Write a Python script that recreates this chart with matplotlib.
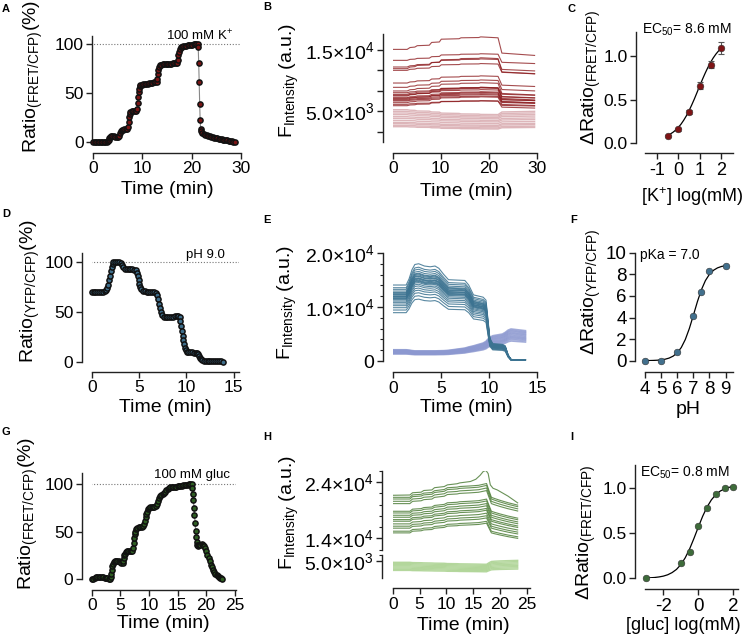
import numpy as np
import matplotlib
matplotlib.use("Agg")
import matplotlib.pyplot as plt
from matplotlib.ticker import FixedLocator, FixedFormatter

plt.rcParams['font.family'] = ['Liberation Sans', 'DejaVu Sans']
plt.rcParams['mathtext.fontset'] = 'custom'
plt.rcParams['mathtext.rm'] = 'Liberation Sans'
plt.rcParams['mathtext.it'] = 'Liberation Sans:italic'
plt.rcParams['mathtext.bf'] = 'Liberation Sans:bold'
plt.rcParams['mathtext.sf'] = 'Liberation Sans'
plt.rcParams['axes.unicode_minus'] = False

# ---------------- Panel A: K+ sensor ratio trace ----------------
A_TIME = [0.0, 0.3, 0.6, 0.9, 1.2, 1.5, 1.8, 2.1, 2.4, 2.7, 3.0,
          3.1, 3.2, 3.35,
          3.6, 3.9, 4.2, 4.5, 4.8, 5.1,
          5.3, 5.45, 5.6, 5.75,
          6.0, 6.3, 6.6, 6.9,
          7.1, 7.2, 7.3, 7.4, 7.55,
          7.8, 8.1, 8.4, 8.7,
          8.9, 9.0, 9.1, 9.2, 9.3, 9.45, 9.6,
          9.9, 10.2, 10.5, 10.8, 11.1, 11.4, 11.7, 12.0, 12.3, 12.6, 12.9,
          13.05, 13.15, 13.25, 13.35, 13.5,
          13.8, 14.1, 14.4, 14.7, 15.0, 15.3, 15.6, 15.9, 16.2, 16.5, 16.8, 17.05,
          17.2, 17.3, 17.4, 17.55, 17.75,
          18.0, 18.3, 18.6, 18.9, 19.2, 19.5, 19.8, 20.1, 20.4, 20.7, 21.0, 21.25,
          21.35, 21.45, 21.55, 21.65, 21.75, 21.85, 21.95,
          22.2, 22.5, 22.8, 23.1, 23.4, 23.7, 24.0, 24.3, 24.6, 24.9, 25.2, 25.5,
          25.8, 26.1, 26.4, 26.7, 27.0, 27.3, 27.6, 27.9, 28.2, 28.5, 28.8]
A_RATIO = [0.3, 0.3, 0.2, 0.3, 0.3, 0.2, 0.3, 0.4, 0.3, 0.4, 0.6,
           2.0, 4.0, 5.5,
           6.0, 6.2, 6.0, 5.6, 5.0, 4.7,
           6.5, 9.0, 11.2, 12.3,
           12.7, 12.9, 13.0, 13.1,
           15.5, 20.0, 25.0, 28.5, 30.5,
           31.2, 31.5, 31.8, 32.0,
           34.0, 40.0, 46.0, 51.0, 54.5, 56.8, 57.8,
           58.3, 58.7, 59.0, 59.3, 59.6, 59.9, 60.2, 60.5, 60.7, 61.0, 61.2,
           64.0, 69.0, 73.5, 76.5, 78.2,
           78.9, 79.2, 79.4, 79.5, 79.6, 79.7, 79.8, 79.9, 80.0, 80.1, 80.3, 80.8,
           84.0, 88.5, 92.0, 94.8, 96.3,
           97.0, 97.4, 97.8, 98.1, 98.4, 98.7, 99.0, 99.3, 99.5, 99.7, 99.9, 100.0,
           97.0, 81.0, 61.0, 39.0, 22.0, 13.5, 11.0,
           9.5, 8.5, 7.6, 6.9, 6.3, 5.8, 5.3, 4.9, 4.5, 4.1, 3.7, 3.4,
           3.1, 2.8, 2.5, 2.2, 1.9, 1.6, 1.3, 1.0, 0.7, 0.4, 0.1]

# ---------------- Panel B: FRET / CFP intensities ----------------
B_TIME = [0, 3.0, 3.6, 4.6, 5.1, 7.6, 8.1, 9.7, 10.1, 13.8, 14.2, 17.9, 18.3, 21.9, 22.7, 29.5]
B_FRET_PROFILE = [1.0, 1.0, 1.02, 1.025, 1.04, 1.045, 1.075, 1.08, 1.11, 1.115, 1.125,
                  1.128, 1.135, 1.125, 0.96, 0.935]
B_CFP_PROFILE = [1.0, 1.0, 0.985, 0.98, 0.96, 0.955, 0.93, 0.925, 0.895, 0.885, 0.87,
                 0.865, 0.855, 0.85, 0.93, 0.95]
B_FRET_BASE = [15050, 13270, 12190, 11920, 11650, 9590, 8890, 8300, 8020, 7750, 7600,
               7480, 7210, 7100, 6940, 6800, 6670, 6400, 6130, 5910]
B_FRET_GAIN = [1.0, 0.6, 0.8, 1.1, 0.7, 0.9, 1.0, 1.2, 0.8, 1.1, 0.9,
               1.3, 1.0, 0.8, 1.2, 1.0, 0.9, 1.1, 0.7, 1.0]
B_CFP_BASE = [5260, 4990, 4720, 4450, 4130, 3860, 3530, 3210, 2990, 2720, 2500]

# ---------------- Panel C: K+ dose response ----------------
C_LOGK = [-0.5, 0.0, 0.5, 1.0, 1.5, 2.0]
C_DRATIO = [0.08, 0.16, 0.36, 0.66, 0.90, 1.09]
C_ERR = [0.01, 0.015, 0.02, 0.04, 0.04, 0.07]
C_FIT_X = [-0.5, -0.375, -0.25, -0.125, 0.0, 0.125, 0.25, 0.375, 0.5, 0.625, 0.75,
           0.875, 1.0, 1.125, 1.25, 1.375, 1.5, 1.625, 1.75, 1.875, 2.0]
C_FIT_Y = [0.090, 0.106, 0.126, 0.151, 0.182, 0.219, 0.264, 0.315, 0.374, 0.440, 0.510,
           0.585, 0.660, 0.734, 0.804, 0.869, 0.928, 0.979, 1.023, 1.060, 1.090]

# ---------------- Panel D: pH sensor ratio trace ----------------
D_TIME = [0.0, 0.2, 0.4, 0.6, 0.8, 1.0, 1.2, 1.4,
          1.5, 1.6, 1.7, 1.8, 1.9, 2.0, 2.1, 2.2, 2.3,
          2.45, 2.65, 2.85, 3.05,
          3.2, 3.35, 3.5,
          3.7, 3.9, 4.1, 4.3, 4.5, 4.65,
          4.75, 4.85, 4.95, 5.05, 5.15, 5.25, 5.4,
          5.6, 5.8, 6.0, 6.2, 6.4, 6.6, 6.8,
          6.95, 7.05, 7.15, 7.25, 7.35, 7.45, 7.6,
          7.8, 8.0, 8.2, 8.4, 8.6, 8.8, 9.0, 9.15,
          9.28, 9.36, 9.44, 9.52, 9.6, 9.68, 9.76, 9.84, 9.92, 10.02,
          10.2, 10.4, 10.6, 10.8, 11.0, 11.15,
          11.28, 11.38, 11.48, 11.58, 11.7, 11.85,
          12.05, 12.25, 12.45, 12.65, 12.85, 13.05, 13.25, 13.45, 13.65, 13.85]
D_RATIO = [70.0, 70.2, 70.1, 70.0, 70.1, 70.0, 70.2, 70.5,
           71.5, 73.5, 77.0, 81.5, 86.0, 90.5, 94.5, 97.5, 99.3,
           100.0, 99.8, 99.3, 98.3,
           96.5, 94.5, 93.2,
           92.8, 92.6, 92.5, 92.4, 92.1, 91.3,
           89.0, 86.0, 82.0, 78.0, 74.8, 72.5, 71.0,
           70.3, 70.0, 69.9, 69.8, 69.8, 69.6, 69.2,
           67.0, 63.0, 58.0, 53.5, 49.5, 46.8, 45.2,
           44.6, 44.5, 44.5, 44.7, 45.0, 45.3, 45.8, 46.0,
           45.0, 41.0, 36.0, 31.0, 26.0, 21.5, 17.5, 14.0, 11.5, 10.2,
           9.6, 9.4, 9.3, 9.2, 9.0, 8.6,
           7.5, 5.6, 3.9, 2.6, 1.7, 1.1,
           0.9, 0.8, 0.7, 0.7, 0.6, 0.5, 0.5, 0.4, 0.3, 0.1]

# ---------------- Panel E: YFP / CFP intensities ----------------
E_TIME = [0, 1.4, 1.7, 2.0, 2.3, 2.7, 3.3, 3.9, 4.4, 4.8, 5.3, 5.8, 7.5, 7.9, 8.4,
          9.4, 9.7, 9.9, 10.1, 10.4, 11.4, 11.7, 12.0, 12.3, 13.8]
E_YFP_PROFILE = [1.0, 1.0, 1.08, 1.2, 1.27, 1.28, 1.25, 1.24, 1.25, 1.22, 1.14, 1.07,
                 1.06, 1.0, 0.87, 0.84, 0.8, 0.55, 0.3, 0.23, 0.22, 0.2, 0.08, 0.02, 0.015]
E_CFP_PROFILE = [1.0, 1.0, 0.97, 0.93, 0.9, 0.9, 0.9, 0.9, 0.9, 0.91, 0.92, 0.95,
                 1.15, 1.25, 1.35, 1.6, 1.75, 1.95, 2.1, 2.25, 2.4, 2.55, 2.75, 2.85, 2.7]
E_YFP_BASE = [14070, 13570, 13270, 12960, 12710, 12600, 12460, 12300, 12220, 12030,
              11950, 11850, 11700, 11600, 11500, 11350, 11110, 10860, 10550, 10240,
              9870, 9440, 8950]
E_CFP_BASE = [1300, 1400, 1480, 1550, 1620, 1700, 1780, 1850, 1930, 2000, 2080]

# ---------------- Panel F: pH titration ----------------
F_PH = [4, 5, 6, 7, 7.5, 8, 9]
F_DRATIO = [0.0, 0.0, 0.77, 4.14, 6.36, 8.27, 8.8]
F_FIT_X = [4.0, 4.25, 4.5, 4.75, 5.0, 5.25, 5.5, 5.75, 6.0, 6.25, 6.5, 6.75, 7.0,
           7.25, 7.5, 7.75, 8.0, 8.25, 8.5, 8.75, 9.0]
F_FIT_Y = [0.008, 0.014, 0.025, 0.044, 0.079, 0.139, 0.244, 0.425, 0.728, 1.217, 1.957,
           2.972, 4.194, 5.457, 6.569, 7.420, 8.002, 8.372, 8.595, 8.726, 8.801]

# ---------------- Panel G: glucose sensor ratio trace ----------------
G_TIME = [0.0, 0.25, 0.5, 0.75, 1.0, 1.25, 1.5, 1.75, 2.0, 2.25, 2.5, 2.75, 3.0, 3.2,
          3.3, 3.4, 3.5, 3.6, 3.7, 3.85, 4.0, 4.2, 4.45, 4.7, 4.95, 5.2, 5.4,
          5.5, 5.6, 5.7, 5.8, 5.95, 6.15, 6.4, 6.65, 6.9, 7.1,
          7.2, 7.3, 7.4, 7.5, 7.6, 7.75, 7.95, 8.2, 8.45, 8.7, 8.95,
          9.1, 9.25, 9.4, 9.55, 9.7, 9.85, 10.0, 10.2, 10.45, 10.7, 10.95, 11.2,
          11.35, 11.5, 11.7, 11.9, 12.15, 12.4, 12.6, 12.8, 13.0, 13.25, 13.5, 13.75,
          14.0, 14.25, 14.5, 14.75, 15.0, 15.25, 15.5, 15.75, 16.0, 16.25, 16.5, 16.75,
          17.0, 17.25, 17.45,
          17.55, 17.65, 17.75, 17.85, 17.95, 18.05, 18.15, 18.25, 18.35, 18.45, 18.6,
          18.8, 19.0, 19.2, 19.4, 19.6, 19.8, 20.0, 20.2, 20.4, 20.6, 20.8, 21.0,
          21.2, 21.4, 21.6, 21.8, 22.0, 22.2, 22.4, 22.6, 22.8]
G_RATIO = [0.0, 0.8, 1.5, 2.0, 2.2, 2.3, 2.3, 2.2, 2.0, 1.7, 1.3, 0.9, 0.6, 0.5,
           2.0, 6.0, 10.0, 14.0, 16.5, 18.0, 19.0, 19.5, 19.5, 18.8, 17.8, 17.0, 17.2,
           19.0, 22.0, 25.0, 27.0, 28.5, 29.2, 29.5, 29.6, 29.7, 30.0,
           33.0, 38.0, 43.0, 47.0, 50.0, 52.5, 54.0, 54.5, 54.8, 55.0, 55.5,
           58.0, 61.5, 65.0, 68.5, 71.0, 73.5, 75.0, 75.8, 76.0, 76.0, 76.3, 76.8,
           79.0, 82.0, 85.0, 87.0, 88.5, 89.5, 90.5, 92.0, 93.5, 95.0, 96.0, 96.5,
           96.8, 97.0, 97.2, 97.3, 97.5, 97.8, 98.0, 98.2, 98.5, 98.8, 99.0, 99.3,
           99.6, 100.0, 99.5,
           96.0, 90.0, 83.0, 75.0, 67.0, 59.0, 51.0, 44.0, 39.0, 36.0, 35.0,
           35.5, 36.5, 37.0, 36.5, 35.0, 32.5, 29.5, 26.0, 22.5, 19.0, 15.5, 12.5,
           10.0, 7.8, 6.0, 4.5, 3.3, 2.4, 1.7, 1.1, 0.6]
G_SEM = 3.0

# ---------------- Panel H: glucose sensor intensities ----------------
H_TIME = [0, 3.2, 3.7, 5.3, 5.8, 7.3, 7.8, 9.6, 10.2, 12.0, 12.5, 14.5, 16.0, 17.0,
          17.5, 18.0, 18.4, 19.0, 20.0, 21.5, 23.3]
H_DARK_PROFILE = [1.0, 1.0, 1.02, 1.025, 1.035, 1.04, 1.055, 1.065, 1.08, 1.085, 1.09,
                  1.095, 1.10, 1.11, 1.115, 1.05, 1.0, 0.99, 0.975, 0.955, 0.935]
H_LIGHT_PROFILE = [1.0, 1.0, 0.99, 0.985, 0.98, 0.975, 0.97, 0.965, 0.955, 0.95, 0.945,
                   0.94, 0.935, 0.93, 0.93, 0.99, 1.03, 1.04, 1.05, 1.06, 1.07]
H_DARK_BASE = [21290, 20990, 20580, 20170, 18810, 18510, 18100, 17750, 17330, 17040,
               16570, 16160, 15810, 15270, 14970]
H_LIGHT_BASE = [4750, 4550, 4350, 4150, 3950, 3750, 3550, 3350]
H_TOP_TIME = [0, 3.2, 3.7, 5.3, 5.8, 7.3, 7.8, 9.6, 10.2, 12.0, 12.5, 14.5, 15.5, 16.3,
              16.9, 17.4, 17.8, 18.2, 18.7, 19.5, 21.5, 23.3]
H_TOP_VALUE = [21650, 21700, 22100, 22200, 22500, 22600, 23000, 23200, 23500, 23700,
               23850, 24100, 24500, 25200, 25900, 26050, 25500, 23500, 22900, 22600,
               21500, 20300]

# ---------------- Panel I: glucose dose response ----------------
I_LOGGLUC = [-3.0, -1.0, -0.5, 0.0, 0.5, 1.0, 1.5, 2.0]
I_DRATIO = [0.0, 0.165, 0.29, 0.58, 0.78, 0.93, 1.0, 1.01]
I_FIT_X = [-3.0, -2.75, -2.5, -2.25, -2.0, -1.75, -1.5, -1.25, -1.0, -0.75, -0.5,
           -0.25, 0.0, 0.25, 0.5, 0.75, 1.0, 1.25, 1.5, 1.75, 2.0]
I_FIT_Y = [0.004, 0.006, 0.009, 0.015, 0.024, 0.039, 0.063, 0.098, 0.151, 0.226, 0.323,
           0.440, 0.565, 0.685, 0.787, 0.866, 0.923, 0.962, 0.987, 1.003, 1.013]

# ======================= drawing =======================
W, H = 747, 642
fig = plt.figure(figsize=(W / 100, H / 100), dpi=100)
AXC = '#222222'
TICKFS = 12.5
SCIFS = 14


def add_ax(x0, y0, x1, y1):
    ax = fig.add_axes([x0 / W, 1 - y1 / H, (x1 - x0) / W, (y1 - y0) / H])
    ax.patch.set_alpha(0)
    for s in ['top', 'right']:
        ax.spines[s].set_visible(False)
    return ax


def style(ax, left_px, bottom_px, fs=TICKFS):
    ax.spines['left'].set_position(('outward', left_px * 0.72))
    ax.spines['bottom'].set_position(('outward', bottom_px * 0.72))
    for s in ['left', 'bottom']:
        ax.spines[s].set_linewidth(1.0)
        ax.spines[s].set_color(AXC)
    ax.tick_params(which='major', length=4, width=1.0, color=AXC, labelsize=fs, pad=2)
    ax.tick_params(which='minor', length=2.5, width=0.8, color=AXC)


def ftext(x, y, s, **kw):
    fig.text(x / W, 1 - y / H, s, **kw)


def dotted(ax, y, x0px, x1px):
    ax.plot([x0px / W, x1px / W], [1 - y / H, 1 - y / H], transform=fig.transFigure,
            color='#777777', lw=0.8, ls=(0, (1, 1.6)), zorder=1)


def ratio_markers(ax, t, v, face):
    ax.plot(t, v, color='#888888', lw=0.8, zorder=2, clip_on=False)
    ax.plot(t, v, 'o', ms=3.7, mfc=face, mec='#111111', mew=1.1, clip_on=False, zorder=3)


RATIO_LBL = r'Ratio$_{\mathregular{(FRET/CFP)}}$(%)'
FINT_LBL = r'F$_{\mathregular{Intensity}}$ (a.u.)'
DR_LBL = r'ΔRatio$_{\mathregular{(FRET/CFP)}}$'
LBLFS = 14

# ---- A ----
axA = add_ax(93.3, 36, 240.7, 142)
axA.set_xlim(0, 30)
axA.set_ylim(0, 108)
style(axA, 1.3, 11)
axA.set_xticks([0, 10, 20, 30])
axA.set_yticks([0, 50, 100])
dotted(axA, 44, 82, 240)
ratio_markers(axA, A_TIME, A_RATIO, '#7A1515')
ftext(233, 40, r'100 mM K$^{\mathregular{+}}$', ha='right', va='baseline', fontsize=9.5)

# ---- B ----
axB = add_ax(392.7, 34.3, 537, 142.1)
axB.set_xlim(0, 30)
axB.set_ylim(0, 17500)
style(axB, 9.7, 11)
axB.set_xticks([0, 10, 20, 30])
axB.yaxis.set_major_locator(FixedLocator([5000, 15000]))
axB.yaxis.set_major_formatter(FixedFormatter([r'5.0×10$^{\mathregular{3}}$',
                                              r'1.5×10$^{\mathregular{4}}$']))
axB.yaxis.set_minor_locator(FixedLocator([1667, 8333, 11667]))
axB.tick_params(axis='y', which='minor', length=4, width=1.0)
axB.tick_params(axis='y', which='major', labelsize=SCIFS)
prof_c = np.asarray(B_CFP_PROFILE)
for b in B_CFP_BASE:
    axB.plot(B_TIME, b * prof_c, color='#D8A9AE', lw=1.0, alpha=0.85, zorder=2)
prof_f = np.asarray(B_FRET_PROFILE)
for b, g in zip(B_FRET_BASE, B_FRET_GAIN):
    axB.plot(B_TIME, b * (1 + g * (prof_f - 1)), color='#8E1F22', lw=0.8, alpha=0.8,
             zorder=3)

# ---- C ----
axC = add_ax(645, 31.7, 733.3, 143.3)
axC.set_xlim(-1.55, 2.56)
axC.set_ylim(0, 1.28)
style(axC, 9, 10)
axC.xaxis.set_major_locator(FixedLocator([-1, 0, 1, 2]))
axC.xaxis.set_major_formatter(FixedFormatter(['-1', '0', '1', '2']))
axC.yaxis.set_major_locator(FixedLocator([0, 0.5, 1.0]))
axC.yaxis.set_major_formatter(FixedFormatter(['0.0', '0.5', '1.0']))
axC.tick_params(axis='x', labelsize=13)
axC.plot(C_FIT_X, C_FIT_Y, color='black', lw=0.9, zorder=2)
axC.errorbar(C_LOGK, C_DRATIO, yerr=C_ERR, fmt='none', ecolor='#555555', elinewidth=0.8,
             capsize=2.2, capthick=0.8, zorder=3)
axC.plot(C_LOGK, C_DRATIO, 'o', ms=4.8, mfc='#7E1416', mec='#333333', mew=0.4, zorder=4,
         clip_on=False)
ftext(641.7, 34, r'EC$_{\mathregular{50}}$= 8.6 mM', ha='left', va='baseline', fontsize=10)

# ---- D ----
axD = add_ax(91.7, 253.3, 239.3, 361.7)
axD.set_xlim(0, 15.6)
axD.set_ylim(0, 108.4)
style(axD, 10, 10.3)
axD.set_xticks([0, 5, 10, 15])
axD.set_yticks([0, 50, 100])
dotted(axD, 261.7, 82, 239)
ratio_markers(axD, D_TIME, D_RATIO, '#3F6F8C')
ftext(225, 258, 'pH 9.0', ha='right', va='baseline', fontsize=9.5)

# ---- E ----
axE = add_ax(392.7, 253, 537, 361)
axE.set_xlim(0, 15)
axE.set_ylim(0, 20000)
style(axE, 10, 11.3)
axE.set_xticks([0, 5, 10, 15])
axE.yaxis.set_major_locator(FixedLocator([0, 10000, 20000]))
axE.yaxis.set_major_formatter(FixedFormatter(['0', r'1.0×10$^{\mathregular{4}}$',
                                              r'2.0×10$^{\mathregular{4}}$']))
axE.yaxis.set_minor_locator(FixedLocator([2000, 4000, 6000, 8000, 12000, 14000, 16000,
                                          18000]))
axE.tick_params(axis='y', which='major', labelsize=SCIFS)
prof_y = np.asarray(E_YFP_PROFILE)
for b in E_YFP_BASE:
    axE.plot(E_TIME, b * prof_y, color='#3C7391', lw=0.8, alpha=0.85, zorder=3)
prof_cc = np.asarray(E_CFP_PROFILE)
for b in E_CFP_BASE:
    axE.plot(E_TIME, b * prof_cc, color='#8C98D0', lw=1.2, alpha=0.8, zorder=2)

# ---- F ----
axF = add_ax(645, 252.7, 733.3, 360.7)
axF.set_xlim(4, 9.48)
axF.set_ylim(0, 10)
style(axF, 10, 11.6)
axF.set_xticks([4, 5, 6, 7, 8, 9])
axF.set_yticks([0, 2, 4, 6, 8, 10])
axF.tick_params(axis='x', labelsize=13.5)
axF.tick_params(axis='y', labelsize=13.5)
axF.plot(F_FIT_X, F_FIT_Y, color='black', lw=0.9, zorder=2)
axF.plot(F_PH, F_DRATIO, 'o', ms=4.8, mfc='#42708D', mec='#333333', mew=0.4, zorder=3,
         clip_on=False)
ftext(640, 259, 'pKa = 7.0', ha='left', va='baseline', fontsize=10)

# ---- G ----
axG = add_ax(91.7, 473.3, 236, 579.3)
axG.set_xlim(0, 25.2)
axG.set_ylim(0, 111.2)
style(axG, 10, 10.7)
axG.set_xticks([0, 5, 10, 15, 20, 25])
axG.set_yticks([0, 50, 100])
dotted(axG, 484, 82, 236)
g = np.asarray(G_RATIO)
axG.fill_between(G_TIME, g - G_SEM, g + G_SEM, color='#BDBDBD', alpha=0.7, lw=0, zorder=1)
ratio_markers(axG, G_TIME, G_RATIO, '#2E5E22')
ftext(230, 478, '100 mM gluc', ha='right', va='baseline', fontsize=9.5)

# ---- H (broken axis) ----
axHu = add_ax(392.7, 470.8, 530, 549.6)
axHu.set_xlim(0, 25.6)
axHu.set_ylim(12000, 26000)
style(axHu, 11, 0)
axHu.spines['bottom'].set_visible(False)
axHu.tick_params(axis='x', which='both', bottom=False, labelbottom=False)
axHu.yaxis.set_major_locator(FixedLocator([14000, 24000]))
axHu.yaxis.set_major_formatter(FixedFormatter([r'1.4×10$^{\mathregular{4}}$',
                                               r'2.4×10$^{\mathregular{4}}$']))
axHu.yaxis.set_minor_locator(FixedLocator([12000, 16000, 18000, 20000, 22000, 26000]))
axHu.tick_params(axis='y', which='major', labelsize=SCIFS)
prof_hd = np.asarray(H_DARK_PROFILE)
for b in H_DARK_BASE:
    axHu.plot(H_TIME, b * prof_hd, color='#4F7F3A', lw=0.8, alpha=0.85, zorder=3)
axHu.plot(H_TOP_TIME, H_TOP_VALUE, color='#4F7F3A', lw=0.8, alpha=0.85, zorder=3)

axHl = add_ax(392.7, 555, 530, 578.3)
axHl.set_xlim(0, 25.6)
axHl.set_ylim(2000, 6000)
style(axHl, 11, 10)
axHl.set_xticks([0, 5, 10, 15, 20, 25])
axHl.yaxis.set_major_locator(FixedLocator([5000]))
axHl.yaxis.set_major_formatter(FixedFormatter([r'5.0×10$^{\mathregular{3}}$']))
axHl.yaxis.set_minor_locator(FixedLocator([6000]))
axHl.tick_params(axis='y', which='major', labelsize=SCIFS)
prof_hl = np.asarray(H_LIGHT_PROFILE)
for b in H_LIGHT_BASE:
    axHl.plot(H_TIME, b * prof_hl, color='#A8D18D', lw=1.0, alpha=0.85, zorder=2)

# ---- I ----
axI = add_ax(645, 465, 738, 578.3)
axI.set_xlim(-3.05, 2.27)
axI.set_ylim(0, 1.25)
style(axI, 10, 11)
axI.xaxis.set_major_locator(FixedLocator([-2, 0, 2]))
axI.xaxis.set_major_formatter(FixedFormatter(['-2', '0', '2']))
axI.yaxis.set_major_locator(FixedLocator([0, 0.5, 1.0]))
axI.yaxis.set_major_formatter(FixedFormatter(['0.0', '0.5', '1.0']))
axI.tick_params(axis='x', labelsize=13.5)
axI.plot(I_FIT_X, I_FIT_Y, color='black', lw=0.9, zorder=2)
axI.plot(I_LOGGLUC, I_DRATIO, 'o', ms=4.8, mfc='#3E6B3A', mec='#333333', mew=0.4, zorder=3,
         clip_on=False)
ftext(640, 477, r'EC$_{\mathregular{50}}$= 0.8 mM', ha='left', va='baseline', fontsize=10)

# ---- axis labels ----
for (x, y, s) in [(33, 76, RATIO_LBL), (289, 80, FINT_LBL), (591, 77, DR_LBL),
                  (30, 291, r'Ratio$_{\mathregular{(YFP/CFP)}}$(%)'), (287, 302, FINT_LBL),
                  (591, 292, r'ΔRatio$_{\mathregular{(YFP/CFP)}}$'),
                  (28, 513, RATIO_LBL), (289, 512, FINT_LBL), (586, 532, DR_LBL)]:
    ftext(x, y, s, rotation=90, ha='center', va='center', fontsize=LBLFS)

for (x, y, s, fs) in [(167, 190, 'Time (min)', 14), (466, 192, 'Time (min)', 14),
                      (692, 197, r'[K$^{\mathregular{+}}$] log(mM)', 13),
                      (165, 407, 'Time (min)', 14), (466, 407, 'Time (min)', 14),
                      (688, 410, 'pH', 14),
                      (163, 623, 'Time (min)', 14), (463, 625, 'Time (min)', 14),
                      (683, 626, '[gluc] log(mM)', 13)]:
    ftext(x, y, s, ha='center', va='center', fontsize=fs)

# ---- panel letters ----
for (x, y, s) in [(2, 12, 'A'), (263, 10, 'B'), (568, 12, 'C'),
                  (2, 217, 'D'), (263, 223, 'E'), (570, 223, 'F'),
                  (2, 435, 'G'), (263, 440, 'H'), (570, 440, 'I')]:
    ftext(x, y, s, ha='left', va='baseline', fontsize=8, fontweight='bold')

fig.savefig('out.png', dpi=100)
